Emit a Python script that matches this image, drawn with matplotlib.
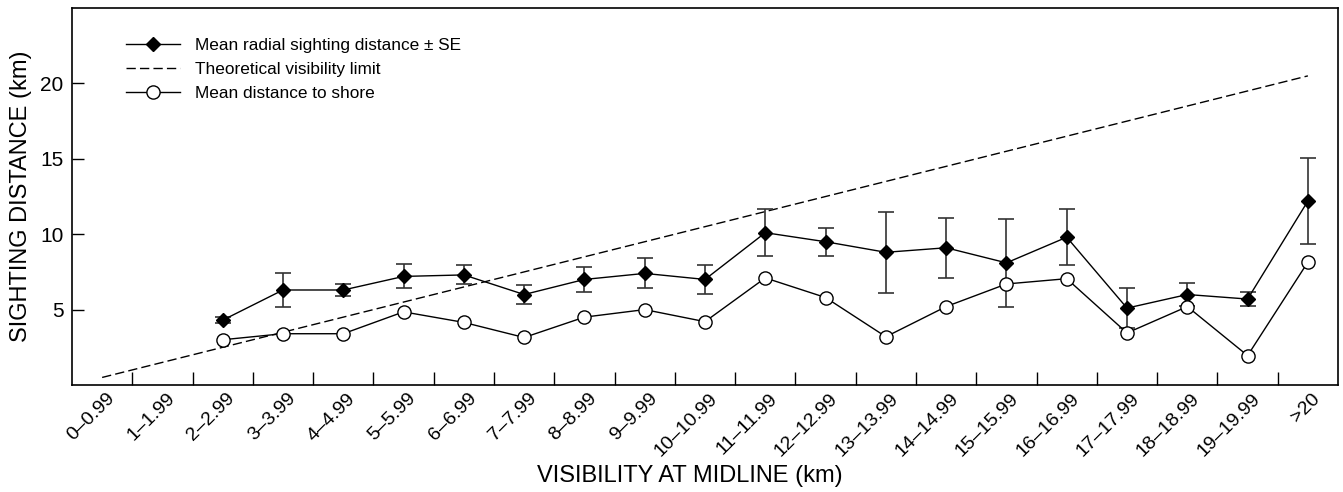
import matplotlib
matplotlib.use("Agg")
import matplotlib.pyplot as plt
import matplotlib.transforms as mtransforms
import numpy as np

plt.rcParams["font.family"] = ["Liberation Sans", "DejaVu Sans"]

CATEGORIES = [
    "0\u20130.99", "1\u20131.99", "2\u20132.99", "3\u20133.99", "4\u20134.99",
    "5\u20135.99", "6\u20136.99", "7\u20137.99", "8\u20138.99", "9\u20139.99",
    "10\u201310.99", "11\u201311.99", "12\u201312.99", "13\u201313.99",
    "14\u201314.99", "15\u201315.99", "16\u201316.99", "17\u201317.99",
    "18\u201318.99", "19\u201319.99", ">20",
]

# theoretical limit = bin midpoint
LIMIT = [0.5, 1.5, 2.5, 3.5, 4.5, 5.5, 6.5, 7.5, 8.5, 9.5, 10.5,
         11.5, 12.5, 13.5, 14.5, 15.5, 16.5, 17.5, 18.5, 19.5, 20.5]

# no sightings in the first two bins
SIGHT_MEAN = [np.nan, np.nan, 4.3, 6.3, 6.3, 7.2, 7.3, 6.0, 7.0, 7.4, 7.0,
              10.1, 9.5, 8.8, 9.1, 8.1, 9.8, 5.1, 6.0, 5.7, 12.2]
SIGHT_SE = [np.nan, np.nan, 0.2, 1.1, 0.43, 0.8, 0.63, 0.65, 0.81, 1.0, 0.97,
            1.55, 0.94, 2.7, 2.0, 2.9, 1.87, 1.32, 0.75, 0.44, 2.86]
SHORE_MEAN = [np.nan, np.nan, 3.0, 3.4, 3.4, 4.85, 4.15, 3.15, 4.5, 5.0, 4.2,
              7.1, 5.8, 3.2, 5.2, 6.7, 7.05, 3.45, 5.2, 1.95, 8.15]


def main():
    x = np.arange(len(CATEGORIES))

    fig = plt.figure(figsize=(13.43, 4.92), dpi=100)
    ax = fig.add_axes([0.0536, 0.2175, 0.9427, 0.7662])

    ax.plot(x, LIMIT, color="black", lw=1.0, dashes=(6.7, 3),
            label="Theoretical visibility limit", zorder=1)

    ax.errorbar(x, SIGHT_MEAN, yerr=SIGHT_SE, fmt="none", ecolor="#333333",
                elinewidth=1.2, capsize=6, capthick=1.2, zorder=2)
    ax.plot(x, SIGHT_MEAN, color="black", lw=1.0, marker="D", markersize=7.2,
            markerfacecolor="black", markeredgecolor="black",
            label="Mean radial sighting distance \u00b1 SE", zorder=3)
    ax.plot(x, SHORE_MEAN, color="black", lw=1.0, marker="o", markersize=9.5,
            markerfacecolor="white", markeredgecolor="black",
            markeredgewidth=1.0, label="Mean distance to shore", zorder=4)

    ax.set_xlim(-0.5, len(CATEGORIES) - 0.5)
    ax.set_ylim(0, 25)

    # category labels at bin centres, tick marks at bin boundaries
    ax.set_xticks(x)
    ax.set_xticklabels(CATEGORIES, rotation=45, ha="right", va="center",
                       rotation_mode="anchor", fontsize=14)
    ax.tick_params(axis="x", which="major", length=0, pad=8)
    shift = mtransforms.ScaledTranslation(7 / 72, 0, fig.dpi_scale_trans)
    for lbl in ax.get_xticklabels():
        lbl.set_transform(lbl.get_transform() + shift)
    ax.set_xticks(x[:-1] + 0.5, minor=True)
    ax.tick_params(axis="x", which="minor", direction="in", length=9.5,
                   width=1.0)

    ax.set_yticks([5, 10, 15, 20])
    ax.tick_params(axis="y", direction="in", length=8.5, width=1.0,
                   labelsize=15, pad=6)

    for sp in ax.spines.values():
        sp.set_linewidth(1.2)

    ax.set_xlabel("VISIBILITY AT MIDLINE (km)", fontsize=17)
    ax.xaxis.set_label_coords(0.488, -0.212)
    ax.set_ylabel("SIGHTING DISTANCE (km)", fontsize=17, labelpad=6)

    handles, labels = ax.get_legend_handles_labels()
    order = [1, 0, 2]
    ax.legend([handles[i] for i in order], [labels[i] for i in order],
              loc="upper left", bbox_to_anchor=(0.043, 0.92), frameon=False,
              fontsize=12.4, handlelength=3.1, handletextpad=0.9,
              labelspacing=0.5, borderpad=0, borderaxespad=0)

    fig.savefig("out.png", dpi=100)


if __name__ == "__main__":
    main()
